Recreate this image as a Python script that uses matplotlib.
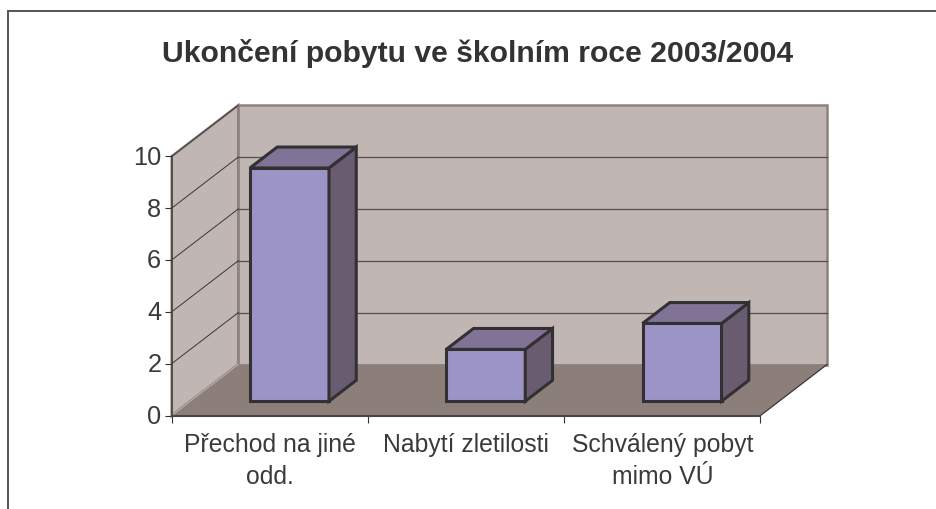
import matplotlib
matplotlib.use('Agg')
import matplotlib.pyplot as plt
from matplotlib.patches import Polygon
from matplotlib.lines import Line2D
from matplotlib.transforms import ScaledTranslation

plt.rcParams['font.family'] = ['Liberation Sans', 'DejaVu Sans']

title = 'Ukončení pobytu ve školním roce 2003/2004'
categories = ['Přechod na jiné\nodd.', 'Nabytí zletilosti', 'Schválený pobyt\nmimo VÚ']
values = [9, 2, 3]
y_ticks = [0, 2, 4, 6, 8, 10]

W, H = 937, 510
# front plane of the 3d box, in pixels
left, right, bottom, top = 171.7, 760.5, 416.5, 157.3

fig = plt.figure(figsize=(W / 100, H / 100), dpi=100)
ax = fig.add_axes([left / W, 1 - bottom / H, (right - left) / W, (bottom - top) / H])
ax.set_xlim(0, len(categories))
ax.set_ylim(0, y_ticks[-1])
ax.patch.set_visible(False)
for s in ax.spines.values():
    s.set_visible(False)

# depth of the box, in data units
px_x = len(categories) / (right - left)
px_y = y_ticks[-1] / (bottom - top)
dx = 66.5 * px_x
dy = 51 * px_y


def sheared(x, y, d):
    # d = 0 front plane, d = 1 back wall
    return (x + d * dx, y + d * dy)


def face(pts, **kw):
    ax.add_patch(Polygon([sheared(*p) for p in pts], closed=True, clip_on=False, **kw))


n = len(categories)
ymax = y_ticks[-1]
edge = '#8f827e'
wall = '#c0b6b3'

# back wall
face([(0, 0, 1), (n, 0, 1), (n, ymax, 1), (0, ymax, 1)], facecolor=wall, edgecolor=edge, lw=1.8, zorder=1)
# side wall
face([(0, 0, 0), (0, 0, 1), (0, ymax, 1), (0, ymax, 0)], facecolor=wall, edgecolor=edge, lw=1.8, zorder=1)
# floor
face([(0, 0, 0), (n, 0, 0), (n, 0, 1), (0, 0, 1)], facecolor='#8c7f7a', edgecolor='none', zorder=2)
ax.plot(*zip(sheared(n, 0, 0), sheared(n, 0, 1)), color='#3c3638', lw=0.9, zorder=3, clip_on=False)
ax.plot(*zip(sheared(0, 0, 0), sheared(0, 0, 1)), color='#b8aeaa', lw=0.8, zorder=3, clip_on=False)

# gridlines
for t in y_ticks[1:]:
    ax.plot(*zip(sheared(0, t, 0), sheared(0, t, 1)), color='#3c3638', lw=0.7, zorder=3, clip_on=False)
    if t < ymax:
        ax.plot(*zip(sheared(0, t, 1), sheared(n, t, 1)), color='#55504f', lw=0.9, zorder=1.5, clip_on=False)

# bars
bar_w = 79 * px_x
d0, d1 = 0.28, 0.69
for i, v in enumerate(values):
    x0 = i + (250 - left) * px_x - d0 * dx
    x1 = x0 + bar_w
    style = dict(edgecolor='#333033', lw=2.2, joinstyle='miter', zorder=4 + i)
    face([(x0, 0, d0), (x1, 0, d0), (x1, v, d0), (x0, v, d0)], facecolor='#9c94c6', **style)
    face([(x1, 0, d0), (x1, 0, d1), (x1, v, d1), (x1, v, d0)], facecolor='#6a5c70', **style)
    face([(x0, v, d0), (x1, v, d0), (x1, v, d1), (x0, v, d1)], facecolor='#807396', **style)

# axes lines and ticks
ax.plot([0, 0], [0, ymax], color='#4a4444', lw=1.2, zorder=10, clip_on=False)
ax.plot([0, n], [0, 0], color='#4a4444', lw=1.5, zorder=10, clip_on=False)
ax.set_xticks(range(n + 1))
ax.set_xticklabels([])
ax.set_yticks(y_ticks)
ax.set_yticklabels([str(t) for t in y_ticks], fontsize=18.3, color='#3a3a3a')
ax.tick_params(axis='x', length=5, width=0.8, color='#333333', direction='out')
ax.tick_params(axis='y', length=5, width=0.8, color='#333333', direction='out', pad=2.5)
# labels sit a bit above their ticks in the original
up = ScaledTranslation(0, 2 / 100, fig.dpi_scale_trans)
for lab in ax.get_yticklabels():
    lab.set_transform(lab.get_transform() + up)
for i, c in enumerate(categories):
    ax.annotate(c, (i + 0.5, 0), xytext=(0, -12), textcoords='offset points', ha='center', va='top',
                fontsize=17.8, color='#3a3a3a', linespacing=1.4, annotation_clip=False)

fig.text(478 / W, 1 - 53 / H, title, ha='center', va='center', fontsize=21.7, fontweight='bold', color='#333333')

# chart frame, only top and left are in the picture
fig.add_artist(Line2D([8.5 / W, 8.5 / W], [0, 1 - 12 / H], color='#555555', lw=1.4))
fig.add_artist(Line2D([8 / W, 1], [1 - 12 / H, 1 - 12 / H], color='#555555', lw=1.4))

fig.savefig('out.png', dpi=100)
